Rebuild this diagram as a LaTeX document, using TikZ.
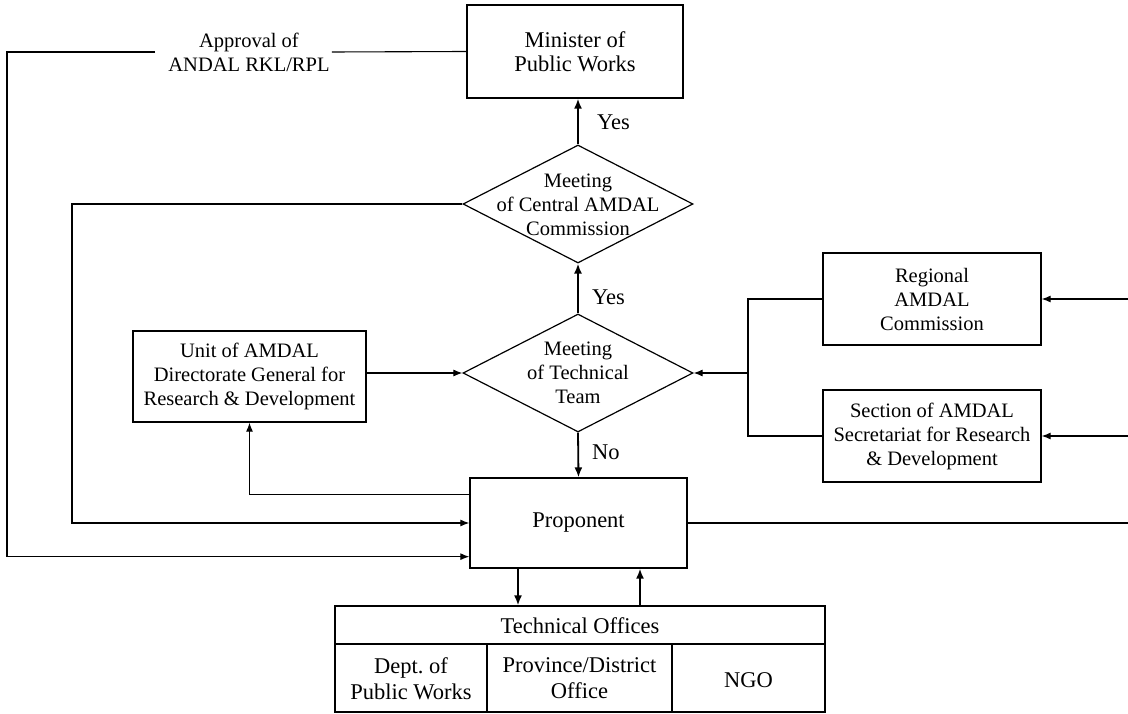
\documentclass[tikz,border=0pt]{standalone}
\usepackage{fontspec}
\setmainfont{Liberation Serif}
\usetikzlibrary{shapes.geometric,arrows.meta,calc}
\begin{document}
\begin{tikzpicture}[x=1pt,y=-1pt,
  txt/.style={font=\fontsize{20.5}{24}\selectfont, align=center, inner sep=0pt},
  big/.style={font=\fontsize{22.5}{26}\selectfont, align=center, inner sep=0pt},
  box/.style={draw, line width=1.3pt, rectangle, inner sep=0pt, align=center, font=\fontsize{20.5}{24}\selectfont},
  dia/.style={draw, line width=1.2pt, diamond, inner sep=0pt, minimum width=230pt, minimum height=118pt},
  conn/.style={line width=1.1pt},
  arr/.style={conn, -{Latex[length=9pt,width=7pt]}},
  vconn/.style={line width=1.8pt, -{Latex[length=10pt,width=8pt]}}
]
\useasboundingbox (0,0) rectangle (1128,714);

% nodes
\node[box, minimum width=216pt, minimum height=93pt, font=\fontsize{22.5}{24}\selectfont] (min) at (575,51.5) {Minister of\\Public Works};
\node[dia] (cdia) at (578,204) {};
\node[txt] (cdiat) at (578,205) {Meeting\\of Central AMDAL\\Commission};
\node[dia] (tdia) at (578,373) {};
\node[txt] (tdiat) at (578,373) {Meeting\\of Technical\\Team};
\node[box, minimum width=233pt, minimum height=91pt] (unit) at (249.5,376.5) {Unit of AMDAL\\Directorate General for\\Research \& Development};
\node[box, minimum width=218pt, minimum height=92pt] (reg) at (932,299) {Regional\\AMDAL\\Commission};
\node[box, minimum width=218pt, minimum height=92pt] (sec) at (932,436) {Section of AMDAL\\Secretariat for Research\\\& Development};
\node[box, minimum width=217pt, minimum height=90pt, font=\fontsize{22.5}{26}\selectfont] (prop) at (578.5,523) {Proponent};
\node[draw, line width=1.3pt, minimum width=490pt, minimum height=106pt, inner sep=0pt] (tbl) at (580,659) {};
\node[big] (tblh) at (580,626) {Technical Offices};
\node[big] (c1) at (411,679) {Dept.\ of\\Public Works};
\node[big] (c2) at (579.5,678) {Province/District\\Office};
\node[big] (c3) at (748.5,680) {NGO};
\node[txt] (appr) at (249,52) {Approval of\\ANDAL RKL/RPL};
\node[big, anchor=west] (yes1) at (597,122) {Yes};
\node[big, anchor=west] (yes2) at (592,297) {Yes};
\node[big, anchor=west] (no) at (592,452) {No};

% free coordinates
\coordinate (lA) at (7,54);
\coordinate (lB) at (72,204);
\coordinate (brk) at (748,373);
\coordinate (rin1) at (1128,299);
\coordinate (rin2) at (1128,436);
\coordinate (rout) at (1128,523);
\coordinate (pd) at ($(prop.south)+(-60.5,0)$);
\coordinate (pu) at ($(prop.south)+(61.5,0)$);

% table inner lines
\draw[line width=1.3pt] (tbl.west |- 0,644) -- (tbl.east |- 0,644);
\draw[line width=1.3pt] (487,644) -- (487,712);
\draw[line width=1.3pt] (672,644) -- (672,712);

% connectors
\draw[vconn] (cdia.north) -- (cdia.north |- min.south);
\draw[vconn] (tdia.north) -- (cdia.south);
\draw[vconn] (tdia.south) -- (prop.north);
\draw[arr] (unit.east |- tdia.west) -- (tdia.west);
\draw[conn] (reg.west) -| (brk) |- (sec.west);
\draw[arr] (brk) -- (tdia.east);
\draw[arr] (rin1) -- (reg.east);
\draw[arr] (rin2) -- (sec.east);
\draw[conn] (prop.east) -- (rout);
\draw[conn] (min.west) -- ([xshift=2pt]appr.east);
\draw[arr] ([xshift=-13pt]appr.west) -| (lA) |- ([yshift=12pt]prop.south west);
\draw[arr] (cdia.west) -- (lB) |- (prop.west);
\draw[arr] ([yshift=-17pt]prop.north west) -| (unit.south);
\draw[vconn] (pd) -- (pd |- tbl.north);
\draw[vconn] (pu |- tbl.north) -- (pu);
\end{tikzpicture}
\end{document}
